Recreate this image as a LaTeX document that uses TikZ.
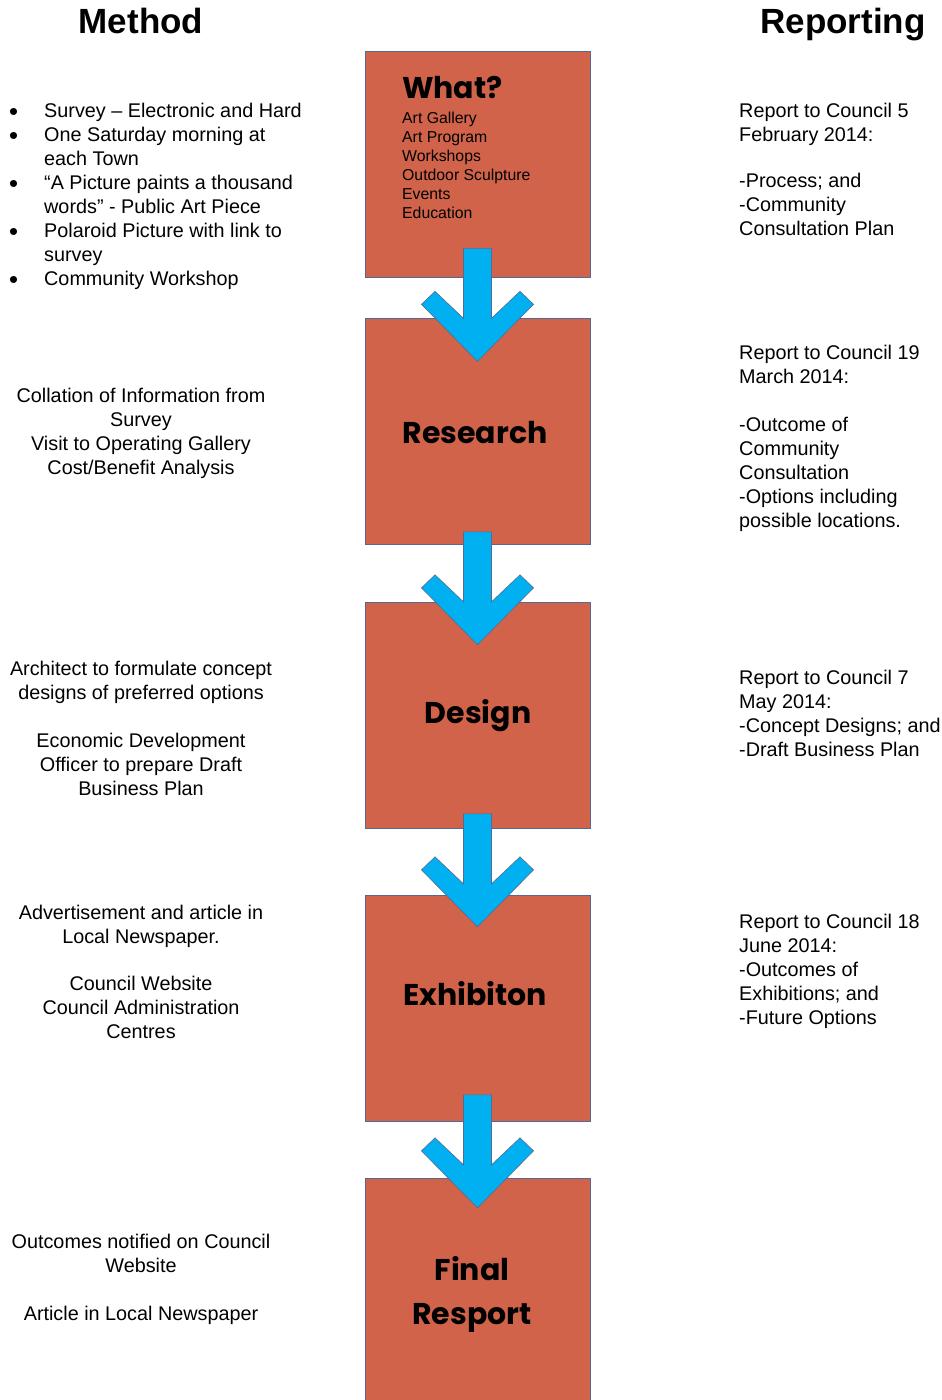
\documentclass[tikz,border=0pt]{standalone}
\usepackage{fontspec}
\setmainfont{Liberation Sans}
\newfontfamily\deco{Poppins}
\definecolor{boxfill}{RGB}{209,99,74}
\definecolor{boxline}{RGB}{84,106,148}
\definecolor{arrowblue}{RGB}{0,176,240}
\tikzset{
  stagebox/.style={draw=boxline, line width=0.7pt, fill=boxfill, minimum width=225pt, minimum height=226pt, inner sep=0pt},
  blockarrow/.style={draw=boxline, line width=0.6pt, fill=arrowblue},
  body/.style={inner sep=0pt, font=\fontsize{19.8}{24}\selectfont},
  header/.style={inner sep=0pt, font=\fontsize{35}{40}\selectfont\bfseries},
  stagetitle/.style={inner sep=0pt, font=\fontsize{30}{44}\selectfont\deco\bfseries},
  smalllist/.style={inner sep=0pt, font=\fontsize{15.8}{19}\selectfont, align=left},
  pics/downarrow/.style={code={
    \draw[blockarrow] (-14,0) -- (-14,70) -- (-42.5,43) -- (-56,56) -- (0,113) -- (56,56) -- (42.5,43) -- (14,70) -- (14,0) -- cycle;
  }}
}
\newcommand{\mybullet}{\llap{\raisebox{-2.5pt}{\scalebox{1.3}{\textbullet}}\hspace{26pt}}}
\begin{document}
\begin{tikzpicture}[x=1pt, y=-1pt]
\clip (0,0) rectangle (942,1400);
\fill[white] (0,0) rectangle (942,1400);

% headers
\node[header, anchor=base] (hmethod) at (141,33) {Method};
\node[header, anchor=base] (hreport) at (843,33) {Reporting};

% stage boxes
\node[stagebox] (b1) at (477.5,164) {};
\node[stagebox] (b2) at (477.5,431.5) {};
\node[stagebox] (b3) at (477.5,715.5) {};
\node[stagebox] (b4) at (477.5,1008.5) {};
\node[stagebox] (b5) at (477.5,1291) {};

% box contents
\node[stagetitle, anchor=base west] (t1) at (402,98) {What?};
\node[smalllist, anchor=north west] (t1list) at (402,112) {Art Gallery\\Art Program\\Workshops\\Outdoor Sculpture\\Events\\Education};
\node[stagetitle, anchor=base] (t2) at (475,443) {Research};
\node[stagetitle, anchor=base] (t3) at (478,723) {Design};
\node[stagetitle, anchor=base] (t4) at (475,1005) {Exhibiton};
\node[stagetitle, anchor=base, align=center] (t5) at (472,1324) {Final\\Resport};

% arrows between boxes
\pic (a1) at ([yshift=29pt]b1.south) {downarrow};
\pic (a2) at ([yshift=13pt]b2.south) {downarrow};
\pic (a3) at ([yshift=15pt]b3.south) {downarrow};
\pic (a4) at ([yshift=27pt]b4.south) {downarrow};

% method column
\node[body, anchor=north west, align=left] (m1) at (44,103) {%
\mybullet Survey – Electronic and Hard\\
\mybullet One Saturday morning at\\
each Town\\
\mybullet “A Picture paints a thousand\\
words” - Public Art Piece\\
\mybullet Polaroid Picture with link to\\
survey\\
\mybullet Community Workshop};
\node[body, anchor=north, align=center] (m2) at (141,388) {Collation of Information from\\Survey\\Visit to Operating Gallery\\Cost/Benefit Analysis};
\node[body, anchor=north, align=center] (m3) at (141,661) {Architect to formulate concept\\designs of preferred options\\[24pt]Economic Development\\Officer to prepare Draft\\Business Plan};
\node[body, anchor=north, align=center] (m4) at (141,905) {Advertisement and article in\\Local Newspaper.\\[23pt]Council Website\\Council Administration\\Centres};
\node[body, anchor=north, align=center] (m5) at (141,1234) {Outcomes notified on Council\\Website\\[24pt]Article in Local Newspaper};

% reporting column
\node[body, anchor=north west, align=left] (r1) at (739,103) {Report to Council 5\\February 2014:\\[22pt]-Process; and\\-Community\\Consultation Plan};
\node[body, anchor=north west, align=left] (r2) at (739,345) {Report to Council 19\\March 2014:\\[24pt]-Outcome of\\Community\\Consultation\\-Options including\\possible locations.};
\node[body, anchor=north west, align=left] (r3) at (739,670) {Report to Council 7\\May 2014:\\-Concept Designs; and\\-Draft Business Plan};
\node[body, anchor=north west, align=left] (r4) at (739,914) {Report to Council 18\\June 2014:\\-Outcomes of\\Exhibitions; and\\-Future Options};
\end{tikzpicture}
\end{document}
